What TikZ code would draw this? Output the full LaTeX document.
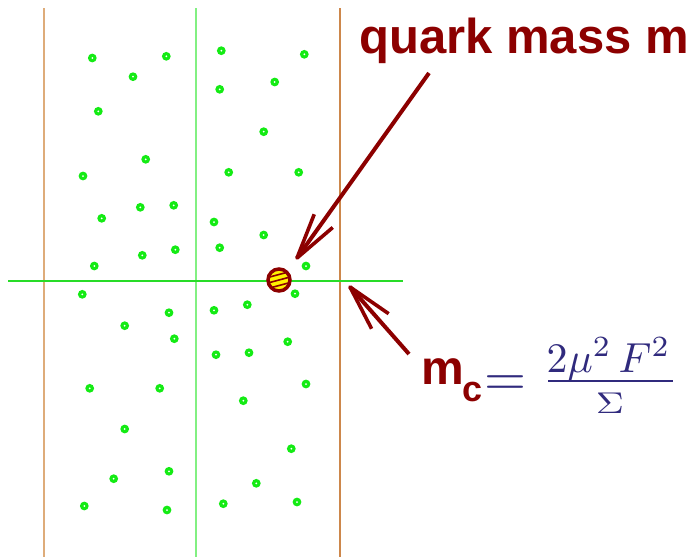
\documentclass[tikz,border=0pt]{standalone}
\usepackage{fontspec}
\usepackage{graphicx}
\usetikzlibrary{calc}
\newfontfamily\hv{Liberation Sans}
\definecolor{dotgreen}{RGB}{20,235,20}
\definecolor{qred}{RGB}{140,0,0}
\definecolor{mathblue}{RGB}{48,42,125}
\definecolor{tanline}{RGB}{222,172,122}
\definecolor{brownline}{RGB}{205,135,75}
\definecolor{lgreen}{RGB}{130,240,130}
\definecolor{hgreen}{RGB}{40,220,40}
\tikzset{
  dot/.style={circle, fill=dotgreen, minimum size=8.8pt, inner sep=0pt,
    path picture={\fill[white] (path picture bounding box.center) circle (1pt);}},
  quark/.style={circle, draw=qred, line width=3.5pt, fill=yellow, minimum size=22pt, inner sep=0pt,
    path picture={
      \foreach \o in {-5.5,0,5.5}
        \draw[qred, line width=1.6pt] ($(path picture bounding box.center)+(-13,\o+3.5)$) -- ($(path picture bounding box.center)+(13,\o-3.5)$);
    }},
  arr/.style={draw=qred, line join=round},
  redtxt/.style={text=qred, inner sep=0pt, font=\hv\bfseries},
  mtxt/.style={text=mathblue, inner sep=0pt},
}
\newcommand\qarrow[2]{%
  \draw[arr, line width=4pt] (#1) -- (#2);
  \draw[arr, line width=3.6pt] ($(#2)!47pt!14:(#1)$) -- (#2) -- ($(#2)!47pt!-14:(#1)$);
}
\begin{document}
\begin{tikzpicture}[x=1pt,y=-1pt]
\useasboundingbox (0,0) rectangle (691,557);
% axes lines
\coordinate (vl1) at (44,8);  \coordinate (vl1b) at (44,557);
\coordinate (vl2) at (196,8); \coordinate (vl2b) at (196,557);
\coordinate (vl3) at (340,8); \coordinate (vl3b) at (340,557);
\coordinate (hl1) at (8,281); \coordinate (hl2) at (403,281);
\draw[tanline, line width=2pt] (vl1) -- (vl1b);
\draw[lgreen, line width=2pt] (vl2) -- (vl2b);
\draw[brownline, line width=1.6pt] (vl3) -- (vl3b);
\draw[hgreen, line width=1.3pt] (hl1) -- (hl2);
% dots
\foreach \p [count=\i] in {{92.3,58},{166.3,56.3},{133,76.7},{98.3,111.3},{145.7,159.3},{83,176},{221.3,50.7},{304.3,54.3},{274.7,82},{219.7,89.3},{263.7,131.7},{228.7,172.3},{298.7,172.3},
{140.3,207.3},{173.7,205.3},{101.7,218.3},{142.3,255.3},{175.3,249.7},{94.3,266},{214,222},{263.7,235},{219.7,247.7},{306,266},{82.3,294.3},{169,312.7},{124.7,325.7},{174.3,338.7},{214,310.3},{247.3,304.7},{295,293.7},{287.7,341.7},{216,354.7},{249,352.7},
{89.7,388.3},{159.7,388.3},{124.7,429},{113.7,478.7},{169,471.3},{84.3,506},{167,510},{306,384},{243.3,400.7},{291.3,448.7},{256.3,483.3},{223.3,503.7},{297,502}}
  \node[dot] (d\i) at (\p) {};
% quark
\node[quark] (q) at (279,280) {};
% texts
\node[redtxt, anchor=base west, font=\hv\bfseries\fontsize{49}{58}\selectfont] (title) at (359,53) {quark mass m};
\node[redtxt, anchor=base west, font=\hv\bfseries\fontsize{48}{58}\selectfont] (mc) at (421.5,384) {m\kern-2pt\raisebox{-17pt}{\fontsize{36}{42}\selectfont c}};
\node[mtxt, anchor=base] (eq) at (505,395) {\scalebox{5.4}{$=$}};
\node[mtxt, anchor=base] (num) at (608.5,372) {\scalebox{4.2}{$2\mu^2\,F^2$}};
\node[mtxt, anchor=base] (den) at (610,413) {\scalebox{3.9}[3.0]{$\Sigma$}};
\coordinate (barl) at (548,381); \coordinate (barr) at (673,381);
\draw[mathblue, line width=2.2pt] (barl) -- (barr);
% arrows
\coordinate (a1s) at (429,73); \coordinate (a1t) at (297,258);
\coordinate (a2s) at (409,354); \coordinate (a2t) at (350,287);
\qarrow{a1s}{a1t}
\qarrow{a2s}{a2t}
\end{tikzpicture}
\end{document}
